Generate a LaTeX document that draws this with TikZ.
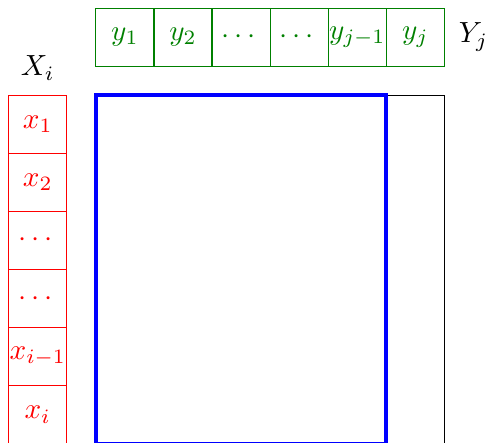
\documentclass[tikz,border=0pt]{standalone}
\usepackage{amsmath, amssymb}
\usepackage{tikz}

\begin{document}
\begin{tikzpicture}[x=0.7cm, y=0.7cm,
    ycell/.style={draw=green!50!black, text=green!50!black, minimum size=0.7cm, inner sep=0pt},
    xcell/.style={draw=red, text=red, minimum size=0.7cm, inner sep=0pt}]
    \useasboundingbox (-1.65,1.64) rectangle (6.75,-5.985);

    % ---------- sequence Y (top row) ----------
    \node[ycell] (y1) at (0.5,1) {$y_1$};
    \node[ycell] (y2) at (1.5,1) {$y_2$};
    \node[ycell] (y3) at (2.5,1) {$\cdots$};
    \node[ycell] (y4) at (3.5,1) {$\cdots$};
    \node[ycell] (y5) at (4.5,1) {$y_{j-1}$};
    \node[ycell] (y6) at (5.5,1) {$y_j$};
    \node (Ylab) at (6.5,1) {$Y_j$};

    % ---------- sequence X (left column) ----------
    \node (Xlab) at (-1,0.47) {$X_i$};
    \node[xcell] (x1) at (-1,-0.5) {$x_1$};
    \node[xcell] (x2) at (-1,-1.5) {$x_2$};
    \node[xcell] (x3) at (-1,-2.5) {$\cdots$};
    \node[xcell] (x4) at (-1,-3.5) {$\cdots$};
    \node[xcell] (x5) at (-1,-4.5) {$x_{i-1}$};
    \node[xcell] (x6) at (-1,-5.5) {$x_i$};

    % full table
    \draw (0,0) rectangle (6,-6);

    % sub-table up to j-1
    \draw[blue, line width=1.4pt] (0,0) rectangle (5,-6);
\end{tikzpicture}
\end{document}
